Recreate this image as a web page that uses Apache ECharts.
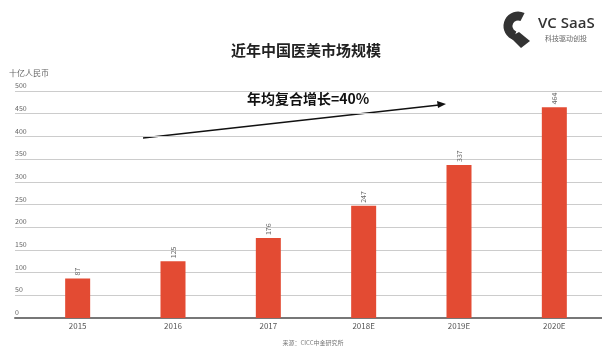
<!DOCTYPE html>
<html><head><meta charset="utf-8">
<script src="https://cdn.jsdelivr.net/npm/echarts@6/dist/echarts.min.js"></script>
<style>html,body{margin:0;padding:0;background:#fff}#c{width:602px;height:346px}</style>
</head><body><div id="c"></div>
<script>
var categories = ['2015','2016','2017','2018E','2019E','2020E'];
var values = [87,125,176,247,337,464];
var yTicks = {min:0, max:500, interval:50};
var chart = echarts.init(document.getElementById('c'));
var font = '"Noto Sans CJK SC", "Noto Sans", sans-serif';
chart.setOption({
  animation:false,
  textStyle:{fontFamily:font},
  title:[
    {text:'近年中国医美市场规模', left:301, top:38, textAlign:'center',
     textStyle:{fontSize:15, fontWeight:'bold', color:'#222', fontFamily:font}},
    {text:'十亿人民币', left:4, top:64, textStyle:{fontSize:8, fontWeight:'normal', color:'#666', fontFamily:font}},
    {text:'来源：CICC中金研究所', left:308, top:335, textAlign:'center', textStyle:{fontSize:6, fontWeight:'normal', color:'#777', fontFamily:font}}
  ],
  grid:[
    {left:30, right:0, top:91, bottom:28},
    {left:15, width:15, top:91, bottom:28}
  ],
  xAxis:[
    {type:'category', data:categories, gridIndex:0,
     axisLine:{lineStyle:{color:'#777', width:2}}, axisTick:{show:false},
     axisLabel:{color:'#555', fontSize:8, margin:4, fontFamily:font}},
    {type:'category', data:[''], gridIndex:1,
     axisLine:{lineStyle:{color:'#777', width:2}}, axisTick:{show:false}, axisLabel:{show:false}}
  ],
  yAxis:[
    {type:'value', gridIndex:0, min:yTicks.min, max:yTicks.max, interval:yTicks.interval,
     axisLine:{show:false}, axisTick:{show:false}, axisLabel:{show:false},
     splitLine:{lineStyle:{color:'#ccc', width:1}}},
    {type:'value', gridIndex:1, min:yTicks.min, max:yTicks.max, interval:yTicks.interval,
     axisLine:{show:false}, axisTick:{show:false},
     axisLabel:{inside:true, color:'#666', fontSize:7, verticalAlign:'bottom', align:'left', margin:0, padding:[0,0,2,0], fontFamily:font},
     splitLine:{lineStyle:{color:'#ccc', width:1}}}
  ],
  series:[{
    type:'bar', data:values, xAxisIndex:0, yAxisIndex:0, barWidth:25,
    itemStyle:{color:'#e34b33'},
    label:{show:true, position:'top', rotate:90, align:'left', verticalAlign:'middle', distance:3,
      color:'#666', fontSize:7, fontFamily:font}
  }],
  graphic:[
    {type:'text', left:247, top:92, style:{text:'年均复合增长=40%', font:'bold 14px '+font, fill:'#111'}},
    {type:'line', shape:{x1:143, y1:138, x2:439, y2:105}, style:{stroke:'#111', lineWidth:1.3}},
    {type:'polygon', shape:{points:[[446,104],[437,101],[438,108]]}, style:{fill:'#111'}},
    {type:'arc', shape:{cx:518, cy:26, r:10, startAngle:Math.PI*1.65, endAngle:Math.PI*0.6, clockwise:false},
     style:{stroke:'#333', lineWidth:9, fill:null}},
    {type:'polygon', shape:{points:[[510,37],[519,32],[530,41],[521,48]]}, style:{fill:'#333'}},
    {type:'text', left:538, top:16, style:{text:'VC SaaS', font:'600 15px "Open Sans", sans-serif', fill:'#333'}},
    {type:'text', left:545, top:35, style:{text:'科技驱动创投', font:'7px '+font, fill:'#666'}}
  ]
});
</script></body></html>
